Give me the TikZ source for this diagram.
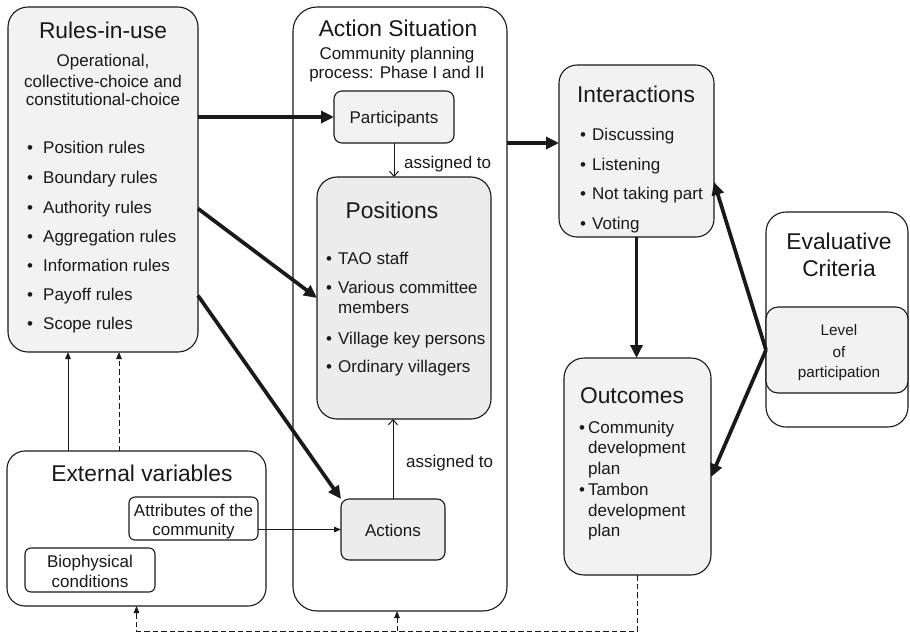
\documentclass[tikz,border=0pt]{standalone}
\usepackage{fontspec}
\setmainfont{Liberation Sans}
\usetikzlibrary{arrows.meta,calc}
\definecolor{boxfill}{RGB}{242,242,242}
\definecolor{boxfillb}{RGB}{236,236,236}
\definecolor{ink}{RGB}{25,25,25}
\tikzset{
  box/.style={draw=ink, line width=1.1pt, rectangle, outer sep=0pt, inner sep=0pt},
  gbox/.style={box, fill=boxfill},
  ttl/.style={font=\fontsize{22.8}{27}\selectfont, text=ink, inner sep=0pt, anchor=base},
  txt/.style={font=\fontsize{17}{20}\selectfont, text=ink, inner sep=0pt, anchor=base},
  txtw/.style={txt, anchor=base west},
  smalltxt/.style={font=\fontsize{15.3}{18}\selectfont, text=ink, inner sep=0pt, anchor=base},
  thickarr/.style={line width=3.7pt, draw=ink, -{Triangle[length=13pt,width=12pt]}},
  thinarr/.style={line width=1pt, draw=ink, -{Triangle[length=7pt,width=5.5pt]}},
  openarr/.style={line width=1pt, draw=ink, -{Straight Barb[length=5pt,width=9pt]}},
  dasharr/.style={thinarr, dash pattern=on 5.5pt off 3pt},
}
\begin{document}
\begin{tikzpicture}[x=1pt,y=-1pt]
\useasboundingbox (0,0) rectangle (910,633);
% ---------- boxes ----------
\node[gbox, rounded corners=20pt, minimum width=190pt, minimum height=345pt] (rules) at (103,179.5) {};
\node[box, fill=white, rounded corners=24pt, minimum width=214pt, minimum height=604pt] (action) at (400,309) {};
\node[gbox, rounded corners=8pt, minimum width=120pt, minimum height=52pt] (partic) at (394,117) {};
\node[box, fill=boxfillb, rounded corners=20pt, minimum width=174pt, minimum height=242pt] (positions) at (404,298) {};
\node[box, fill=boxfillb, rounded corners=8pt, minimum width=104pt, minimum height=61pt] (actions) at (393,529.5) {};
\node[gbox, rounded corners=18pt, minimum width=155pt, minimum height=172pt] (interactions) at (636.5,151) {};
\node[gbox, rounded corners=20pt, minimum width=147pt, minimum height=217pt] (outcomes) at (637.5,466.5) {};
\node[box, fill=white, rounded corners=20pt, minimum width=142pt, minimum height=215pt] (evaluative) at (837,319.5) {};
\node[gbox, rounded corners=12pt, minimum width=142pt, minimum height=86pt] (level) at (837,350) {};
\node[box, fill=white, rounded corners=18pt, minimum width=259pt, minimum height=155pt] (ext) at (136.5,528.5) {};
\node[box, fill=white, rounded corners=6pt, minimum width=129pt, minimum height=43pt] (attr) at (193.5,518.5) {};
\node[box, fill=white, rounded corners=6pt, minimum width=130pt, minimum height=44pt] (bio) at (90,570) {};
% ---------- texts ----------
\node[ttl] (rt) at (103,38) {Rules-in-use};
\node[txt] (rs1) at (103,66) {Operational,};
\node[txt] (rs2) at (103,87) {collective-choice and};
\node[txt] (rs3) at (103,105) {constitutional-choice};
\foreach \t/\y/\n in {Position rules/153/1, Boundary rules/183/2, Authority rules/213/3, Aggregation rules/242/4, Information rules/271/5, Payoff rules/300/6, Scope rules/329/7}{
  \node[txtw] (rb\n) at (27,\y) {•};
  \node[txtw] (r\n) at (43,\y) {\t};
}
\node[ttl] (at) at (398,36) {Action Situation};
\node[txt] (as1) at (397,59) {Community planning};
\node[txt] (as2) at (397,78) {process: Phase I and II};
\node[txt] (pt) at (394,123) {Participants};
\node[txtw] (asg1) at (404,168) {assigned to};
\node[ttl] (post) at (392,218) {Positions};
\foreach \t/\y/\n in {TAO staff/264/1, Various committee/293/2, Village key persons/344/3, Ordinary villagers/372/4}{
  \node[txtw] (pb\n) at (326,\y) {•};
  \node[txtw] (p\n) at (338,\y) {\t};
}
\node[txtw] (p2b) at (338,313) {members};
\node[txt] (act) at (393,536) {Actions};
\node[txtw] (asg2) at (406,467) {assigned to};
\node[ttl] (it) at (636,102) {Interactions};
\foreach \t/\y/\n in {Discussing/140/1, Listening/170/2, Not taking part/199/3, Voting/229/4}{
  \node[txtw] (ib\n) at (580,\y) {•};
  \node[txtw] (i\n) at (592,\y) {\t};
}
\node[ttl] (ot) at (632,403) {Outcomes};
\node[txtw] (ob1) at (579,433) {•};
\node[txtw] (o1) at (588,433) {Community};
\node[txtw] (o2) at (588,453) {development};
\node[txtw] (o3) at (588,474) {plan};
\node[txtw] (ob2) at (579,495) {•};
\node[txtw] (o4) at (588,495) {Tambon};
\node[txtw] (o5) at (588,516) {development};
\node[txtw] (o6) at (588,536) {plan};
\node[ttl] (et1) at (839,249) {Evaluative};
\node[ttl] (et2) at (839,276) {Criteria};
\node[smalltxt] (l1) at (839,335) {Level};
\node[smalltxt] (l2) at (839,357) {of};
\node[smalltxt] (l3) at (839,377) {participation};
\node[ttl] (xt) at (142,481) {External variables};
\node[txt] (a1) at (193.5,516) {Attributes of the};
\node[txt] (a2) at (193.5,535) {community};
\node[txt] (b1) at (90,567) {Biophysical};
\node[txt] (b2) at (90,587) {conditions};
% ---------- connectors ----------
\draw[thickarr] (rules.east |- partic.west) -- (partic.west);
\draw[thickarr] (rules.east |- r3.west) -- (positions.west);
\draw[thickarr] (rules.east |- r6.west) -- (actions.north west);
\draw[thickarr] (action.east |- partic.south) -- (interactions.west |- partic.south);
\draw[thickarr] (interactions.south) -- (interactions.south |- outcomes.north);
\draw[thickarr] (level.west) -- ([yshift=-31pt]interactions.east);
\draw[thickarr] (level.west) -- ([yshift=-10.5pt]outcomes.east);
\draw[openarr] (partic.south) -- (partic.south |- positions.north);
\draw[openarr] (actions.north) -- (actions.north |- positions.south);
\draw[thinarr] (attr.east |- actions.west) -- (actions.west);
\draw[thinarr] ([xshift=-68.5pt]ext.north) -- ([xshift=-68.5pt]ext.north |- rules.south);
\draw[dasharr] ([xshift=-17.5pt]ext.north) -- ([xshift=-17.5pt]ext.north |- rules.south);
\draw[dasharr] (outcomes.south) -- ([yshift=-56pt]outcomes.south) -| (ext.south);
\draw[dasharr] ([xshift=-3pt,yshift=-20pt]action.south) -- ([xshift=-3pt]action.south);
\end{tikzpicture}
\end{document}
